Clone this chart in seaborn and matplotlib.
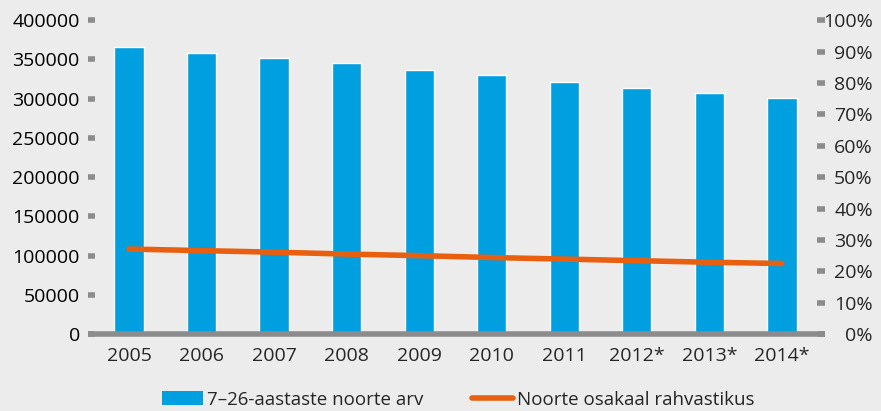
""" Youth count and share of population, 2005-2014 """

import pandas as pd
import numpy as np
import matplotlib.pyplot as plt
import seaborn as sns
from matplotlib.patches import Patch
from matplotlib.lines import Line2D
from matplotlib.ticker import FuncFormatter

# Data
years = ["2005", "2006", "2007", "2008", "2009", "2010", "2011", "2012*", "2013*", "2014*"]
youth_count = [365600, 358000, 351600, 345200, 336300, 330000, 321000, 313400, 307000, 300600]
youth_share = [27.1, 26.6, 26.1, 25.5, 25.0, 24.4, 23.9, 23.4, 22.9, 22.5]

bar_label = "7–26-aastaste noorte arv"
line_label = "Noorte osakaal rahvastikus"

df = pd.DataFrame({"year": years, "count": youth_count, "share": youth_share})

bg = "#ececec"
blue = "#009fe0"
orange = "#e8600f"
grey = "#8c8c8c"

sns.set_style("white", {"axes.facecolor": bg, "figure.facecolor": bg})
plt.rcParams["font.family"] = ["Open Sans", "DejaVu Sans"]

fig, ax = plt.subplots(figsize=(8.81, 4.11), dpi=100)
fig.subplots_adjust(left=0.1, right=0.936, top=0.951, bottom=0.187)

sns.barplot(data=df, x="year", y="count", color=blue, width=0.405, saturation=1, ax=ax)
ax.set_xlim(-0.565, 9.59)
ax.set_ylim(0, 400000)
ax.set_yticks(np.arange(0, 400001, 50000))
ax.set_xlabel("")
ax.set_ylabel("")

ax2 = ax.twinx()
sns.lineplot(data=df, x="year", y="share", color=orange, linewidth=4, ax=ax2,
             solid_capstyle="round")
ax2.set_ylim(0, 100)
ax2.set_yticks(np.arange(0, 101, 10))
ax2.yaxis.set_major_formatter(FuncFormatter(lambda v, p: f"{v:.0f}%"))
ax2.set_ylabel("")
ax2.set_xlim(-0.565, 9.59)

for a in (ax, ax2):
    for s in a.spines.values():
        s.set_visible(False)
ax.spines["bottom"].set_visible(True)
ax.spines["bottom"].set_color(grey)
ax.spines["bottom"].set_linewidth(4)
ax.spines["bottom"].set_capstyle("butt")

ax.tick_params(axis="y", direction="in", length=5, width=4, color=grey, pad=6,
               labelsize=14, labelcolor="black", left=True)
ax.tick_params(axis="x", length=0, pad=9, labelsize=14)
ax2.tick_params(axis="y", direction="in", length=6, width=4, color=grey, pad=-4,
                labelsize=14, right=True)
for lbl in ax2.get_yticklabels():
    lbl.set_horizontalalignment("right")
    lbl.set_x(1.073)

handles = [Patch(facecolor=blue, edgecolor="none"),
           Line2D([0], [0], color=orange, linewidth=4, solid_capstyle="round")]
fig.legend(handles, [bar_label, line_label], loc="lower center",
           bbox_to_anchor=(0.52, -0.035), ncol=2, frameon=False, fontsize=13.5,
           handlelength=2.2, handletextpad=0.2, columnspacing=2.6)

fig.savefig("out.png", dpi=100, facecolor=bg)
